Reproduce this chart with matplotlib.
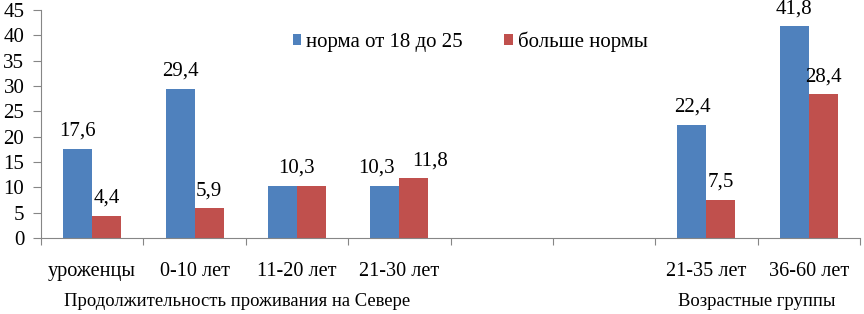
import matplotlib.pyplot as plt
import numpy as np

categories = ['уроженцы', '0-10 лет', '11-20 лет', '21-30 лет', '', '', '21-35 лет', '36-60 лет']
norma = [17.6, 29.4, 10.3, 10.3, None, None, 22.4, 41.8]
bolshe = [4.4, 5.9, 10.3, 11.8, None, None, 7.5, 28.4]
series_names = ['норма от 18 до 25', 'больше нормы']
group_titles = ['Продолжительность проживания на Севере', 'Возрастные группы']

plt.rcParams['font.family'] = ['Liberation Serif', 'DejaVu Serif']

fig = plt.figure(figsize=(8.64, 3.14), dpi=100)
ax = fig.add_axes([41 / 864, 1 - 238 / 314, (860 - 41) / 864, (238 - 10) / 314])

x = np.arange(len(categories))
w = 0.283
blue = '#4F81BD'
red = '#C0504D'

def clean(vals):
    return [np.nan if v is None else v for v in vals]

ax.bar(x - w / 2, clean(norma), w, color=blue, label=series_names[0])
ax.bar(x + w / 2, clean(bolshe), w, color=red, label=series_names[1])

ax.set_xlim(-0.5, len(categories) - 0.5)
ax.set_ylim(0, 45)

# data labels (outside end, nudged apart where they collide)
px_per_unit = 228 / 45
for i in range(len(categories)):
    a, b = norma[i], bolshe[i]
    if a is None:
        continue
    if a == b:
        # identical values: one label over the pair
        labels = [(x[i], a, 0)]
    elif abs(a - b) < 4:
        labels = [(x[i] - w / 2, a, -8), (x[i] + w / 2, b, 16)]
    else:
        labels = [(x[i] - w / 2, a, 0), (x[i] + w / 2, b, 0)]
    for xi, v, dx in labels:
        gap = min(13, (45 - v) * px_per_unit + 10)  # keep inside top
        ax.annotate(f'{v:.1f}'.replace('.', ','), (xi, v), xytext=(dx * 0.72, gap * 0.72),
                    textcoords='offset points', ha='center', va='baseline', fontsize=15)

ax.set_yticks(range(0, 46, 5))
ax.tick_params(axis='y', labelsize=15, length=6, color='#868686', pad=6)

ax.set_xticks(np.arange(-0.5, len(categories), 1))
ax.set_xticklabels([])
ax.tick_params(axis='x', length=5, color='#868686')
for xi, lab in zip(x, categories):
    ax.text(xi, -4.8, lab, ha='center', va='top', fontsize=14.6)

ax.text(1.42, -10.8, group_titles[0], ha='center', va='top', fontsize=13.4)
ax.text(6.49, -10.8, group_titles[1], ha='center', va='top', fontsize=13.4)

for s in ('top', 'right'):
    ax.spines[s].set_visible(False)
for s in ('left', 'bottom'):
    ax.spines[s].set_color('#868686')

ax.legend(loc='center', bbox_to_anchor=(0.524, 0.86), ncol=2, frameon=False,
          fontsize=15, handlelength=0.4, handleheight=0.4, handletextpad=0.25,
          columnspacing=2.0)

fig.savefig('out.png', dpi=100)
